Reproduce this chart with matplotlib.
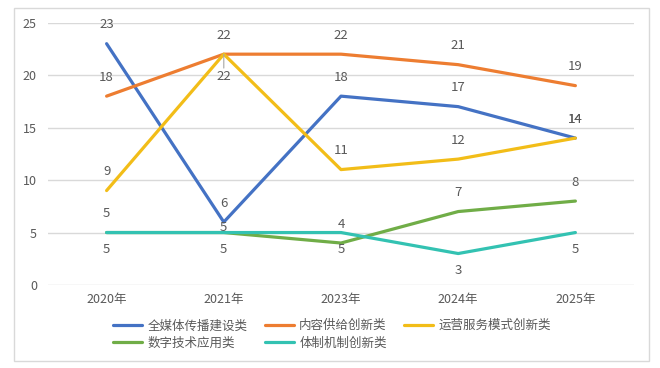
import matplotlib
matplotlib.use("Agg")
import matplotlib.pyplot as plt
from matplotlib.patches import Rectangle

plt.rcParams['font.family'] = ['Noto Sans CJK SC', 'DejaVu Sans']

years = ["2020年", "2021年", "2023年", "2024年", "2025年"]
series_names = ["全媒体传播建设类", "内容供给创新类", "运营服务模式创新类", "数字技术应用类", "体制机制创新类"]
s_media = [23, 6, 18, 17, 14]
s_content = [18, 22, 22, 21, 19]
s_service = [9, 22, 11, 12, 14]
s_digital = [5, 5, 4, 7, 8]
s_system = [5, 5, 5, 3, 5]
yticks = [0, 5, 10, 15, 20, 25]

values = [s_media, s_content, s_service, s_digital, s_system]
colors = ["#4472C4", "#ED7D31", "#F2BD18", "#70AD47", "#33C2B2"]
# label offsets in points (vertical), per series per point
offsets = [
    [13.5, 13, 13.5, 13.5, 13.5],
    [13.5, 13.5, 13.5, 13.5, 13.5],
    [13.5, -16, 13.5, 13.5, 13.5],
    [13.5, 3.5, 13.5, 13.5, 13.5],
    [-12.5, -12.5, -12.5, -12.5, -12.5],
]
text_color = "#595959"

fig = plt.figure(figsize=(6.6, 3.68), dpi=100)
fig.patches.append(Rectangle((14/660, 1-361/368), 635/660, 353/368,
                             transform=fig.transFigure, fill=False,
                             edgecolor="#D9D9D9", linewidth=1.0))
ax = fig.add_axes([48/660, 1-285/368, 586/660, (285-22.7)/368])
x = list(range(len(years)))
handles = []
for name, vals, c in zip(series_names, values, colors):
    h, = ax.plot(x, vals, color=c, linewidth=2.3, label=name, solid_capstyle='round',
                 solid_joinstyle='round', zorder=3)
    handles.append(h)

for i, (vals, offs) in enumerate(zip(values, offsets)):
    for xi, v, o in zip(x, vals, offs):
        if i == 1 and xi == 4:
            pass
        ax.annotate(str(v), (xi, v), xytext=(0, o), textcoords="offset points",
                    ha="center", va="center", fontsize=9.5, color=text_color, zorder=5)

# leader line for yellow label at 2021
ax.annotate("", (1, s_service[1]), xytext=(0, -10), textcoords="offset points",
            arrowprops=dict(arrowstyle="-", color="#A6A6A6", lw=0.8, shrinkA=0, shrinkB=0))

ax.set_xlim(-0.5, len(years) - 0.5)
ax.set_ylim(0, 25)
ax.set_yticks(yticks)
ax.set_xticks(x)
ax.set_xticklabels(years)
ax.grid(axis='y', color="#D9D9D9", linewidth=1.0, zorder=0)
ax.set_axisbelow(True)
for sp in ax.spines.values():
    sp.set_visible(False)
ax.tick_params(axis='both', length=0, labelsize=9, colors=text_color)
ax.tick_params(axis='y', pad=8)
ax.tick_params(axis='x', pad=6)

order = [0, 3, 1, 4, 2]
leg = fig.legend([handles[i] for i in order], [series_names[i] for i in order],
                 ncol=3, loc="center", bbox_to_anchor=(332/660, 1-334.5/368),
                 frameon=False, fontsize=9, handlelength=2.3, handletextpad=0.45,
                 columnspacing=1.4, labelspacing=0.35)
for t in leg.get_texts():
    t.set_color(text_color)

fig.savefig("out.png", dpi=100)
